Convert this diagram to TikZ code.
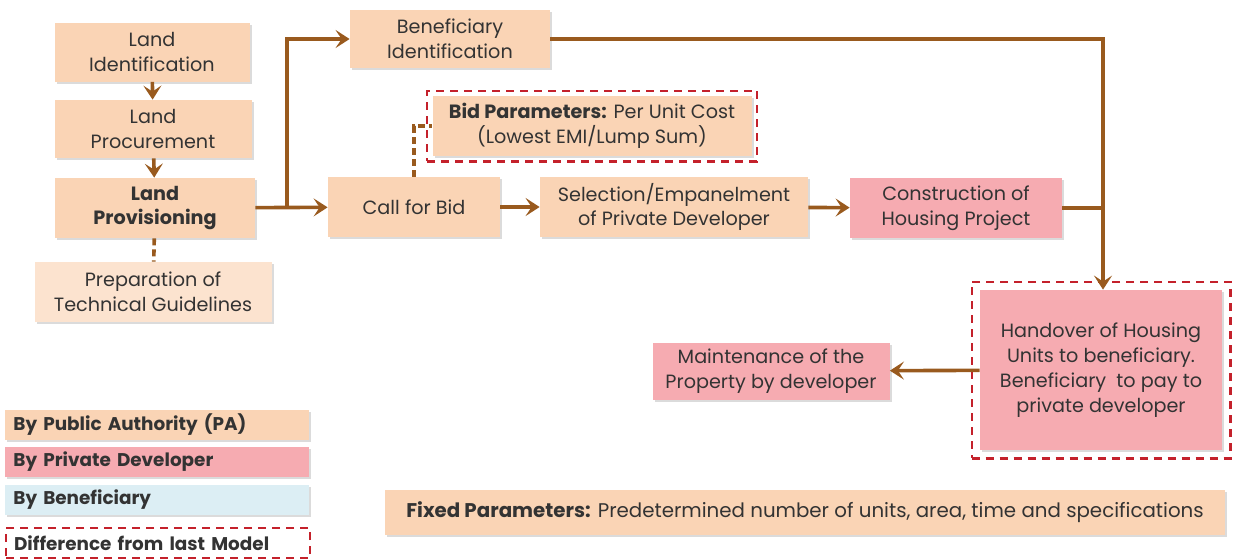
\documentclass[tikz,border=0pt]{standalone}
\usepackage{fontspec}
\setmainfont{Poppins}
\usetikzlibrary{arrows.meta,shadows,fit}
\definecolor{peach}{HTML}{FAD4B5}
\definecolor{lightpeach}{HTML}{FCE3CF}
\definecolor{pinkdev}{HTML}{F6ABB1}
\definecolor{bluebenef}{HTML}{DCEEF4}
\definecolor{flowbrown}{HTML}{995A1E}
\definecolor{diffred}{HTML}{C4212B}
\begin{document}
\begin{tikzpicture}[x=0.5pt,y=-0.5pt]
    \tikzstyle{plain}=[rectangle,align=center,inner sep=1pt,text=black!80,
        font=\fontsize{9.6}{12.4}\selectfont]
    \tikzstyle{stage}=[plain,
        drop shadow={shadow xshift=1pt,shadow yshift=-1.2pt,opacity=0.35,fill=black!40}]
    \tikzstyle{pa}=[stage,fill=peach]
    \tikzstyle{pd}=[stage,fill=pinkdev]
    \tikzstyle{legendtext}=[align=left,anchor=west,text width=144pt,inner xsep=4pt,
        minimum height=15pt,font=\bfseries\fontsize{9.2}{11}\selectfont]
    \tikzstyle{legend}=[stage,legendtext]
    \tikzstyle{diffline}=[draw=diffred,line width=1.1pt,dash pattern=on 4pt off 3pt]
    \tikzstyle{flow}=[draw=flowbrown,line width=1.8pt,-{Stealth[length=7pt,width=9pt,inset=3pt]}]
    \tikzstyle{link}=[draw=flowbrown,line width=1.8pt,dash pattern=on 3.5pt off 2pt]
    \useasboundingbox (0,0) rectangle (1234,558);

    % public authority stages
    \node[pa,minimum width=97.5pt,minimum height=29.5pt] (landid) at (152,52) {Land\\Identification};
    \node[pa,minimum width=98.5pt,minimum height=29pt] (landproc) at (153,129) {Land\\Procurement};
    \node[pa,minimum width=100pt,minimum height=30pt,font=\bfseries\fontsize{9.6}{12.4}\selectfont] (landprov) at (155,208) {Land\\Provisioning};
    \node[stage,fill=lightpeach,minimum width=118.5pt,minimum height=30pt] (prep) at (153,292) {Preparation of\\Technical Guidelines};
    \node[pa,minimum width=100pt,minimum height=29pt] (benid) at (450,39) {Beneficiary\\Identification};
    \node[pa,minimum width=159.5pt,minimum height=30pt] (bidpar) at (592,126) {\textbf{Bid Parameters:} Per Unit Cost\\(Lowest EMI/Lump Sum)};
    \node[pa,minimum width=86pt,minimum height=30pt] (callbid) at (414,207) {Call for Bid};
    \node[pa,minimum width=134pt,minimum height=30pt] (select) at (674,207) {Selection/Empanelment\\of Private Developer};

    % private developer stages
    \node[pd,minimum width=121pt,minimum height=80pt] (handover) at (1101,370) {Handover of Housing\\Units to beneficiary.\\Beneficiary\ \ to pay to\\private developer};
    \node[pd,minimum width=106pt,minimum height=30pt] (constr) at (956,208) {Construction of\\Housing Project};
    \node[pd,minimum width=118.5pt,minimum height=28.5pt] (maint) at (771,371) {Maintenance of the\\Property by developer};
    \node[pa,minimum width=420pt,minimum height=22.5pt,font=\fontsize{9.9}{12}\selectfont] (fixed) at (805,512) {\textbf{Fixed Parameters:} Predetermined number of units, area, time and specifications};

    % differences from last model
    \node[diffline,fit=(bidpar),inner sep=2.5pt] (bidbox) {};
    \node[diffline,fit=(handover),inner sep=4pt] (handbox) {};

    % legend
    \node[legend,fill=peach] (lgpa) at (5,425) {By Public Authority (PA)};
    \node[legend,fill=pinkdev] (lgpd) at (5,462) {By Private Developer};
    \node[legend,fill=bluebenef] (lgben) at (5,500) {By Beneficiary};
    \node[plain,legendtext,diffline] (lgdiff) at (5,543) {Difference from last Model};

    \coordinate (split) at (287,208);
    \coordinate (topright) at (1103,39);
    \coordinate (join) at (1103,208);
    \coordinate (bidcorner) at (414,126);

    \draw[flow] (landid) -- (landproc);
    \draw[flow] (landproc) -- (landprov);
    \draw[flow] (landprov) -- (callbid);
    \draw[flow] (split) |- (benid);
    \draw[flow] (callbid) -- (select);
    \draw[flow] (select) -- (constr);
    \draw[flow] (benid) -- (topright) -- (handover.north -| topright);
    \draw[draw=flowbrown,line width=1.8pt] (constr) -- (join);
    \draw[flow] (handover) -- (maint);
    \draw[link] (landprov) -- (prep);
    \draw[link] (callbid) -- (bidcorner) -- (bidpar.west |- bidcorner);
\end{tikzpicture}
\end{document}
